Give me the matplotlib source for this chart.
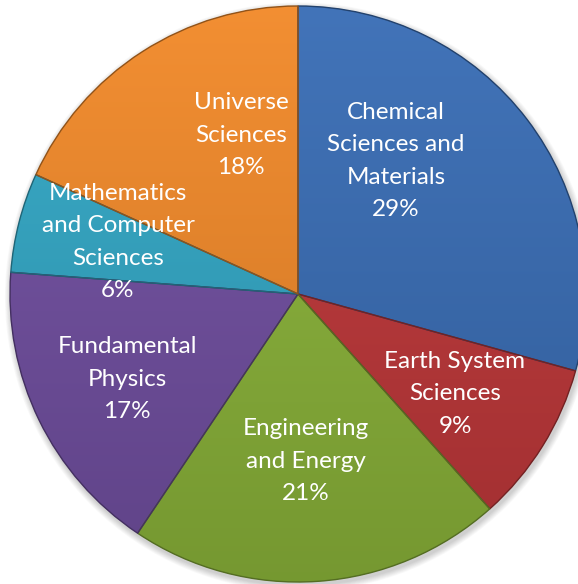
import matplotlib
matplotlib.use("Agg")
import matplotlib.pyplot as plt
from matplotlib.patches import PathPatch
import numpy as np
from matplotlib.colors import to_rgb

categories = ["Chemical\nSciences and\nMaterials", "Earth System\nSciences",
              "Engineering\nand Energy", "Fundamental\nPhysics",
              "Mathematics\nand Computer\nSciences", "Universe\nSciences"]
shares = [29.3, 9.1, 21.0, 16.8, 5.6, 18.2]
colors = ["#3a6eb6", "#c0383a", "#8cb53a", "#7250a2", "#33a8c6", "#f28a2a"]
# label placement (pixels relative to pie centre: right, up)
label_offsets = [(98, 133), (157, -100), (8, -167), (-171, -85), (-180, 52), (-57, 159)]

W, H = 578, 584
fig = plt.figure(figsize=(W / 100, H / 100), dpi=100)
ax = fig.add_axes([0, 0, 1, 1])
cx, cy, R = 298, 290, 288

# soft shadow
for i in range(8):
    sh = plt.Circle((cx + 1.5, cy - 3), R + 1 + i * 0.8, color="black",
                    alpha=0.025, lw=0, zorder=0)
    ax.add_patch(sh)

wedges, _ = ax.pie(shares, colors=colors, startangle=90, counterclock=False,
                   center=(cx, cy), radius=R, frame=True,
                   wedgeprops=dict(linewidth=0))

t = np.linspace(0, 1, 256)
for w, c in zip(wedges, colors):
    w.set_zorder(1)
    rgb = np.array(to_rgb(c))
    light = rgb + (1 - rgb) * 0.04
    dark = rgb * 0.84
    grad = light[None, :] * (1 - t)[:, None] + dark[None, :] * t[:, None]
    img = ax.imshow(grad[:, None, :], extent=(cx - R, cx + R, cy - R, cy + R),
                    origin="upper", aspect="auto", zorder=2, interpolation="bilinear")
    img.set_clip_path(w)
    ax.add_patch(PathPatch(w.get_path(), transform=w.get_transform(), fill=False,
                           edgecolor=tuple(rgb * 0.6), lw=1.0, zorder=3))

for lab, s, (dx, dy) in zip(categories, shares, label_offsets):
    ax.text(cx + dx, cy + dy, f"{lab}\n{round(s)}%", color="white",
            ha="center", va="center", fontsize=17.5, family="Lato",
            linespacing=1.66, zorder=5)

ax.set_xlim(0, W)
ax.set_ylim(0, H)
ax.axis("off")
fig.savefig("out.png", dpi=100)
